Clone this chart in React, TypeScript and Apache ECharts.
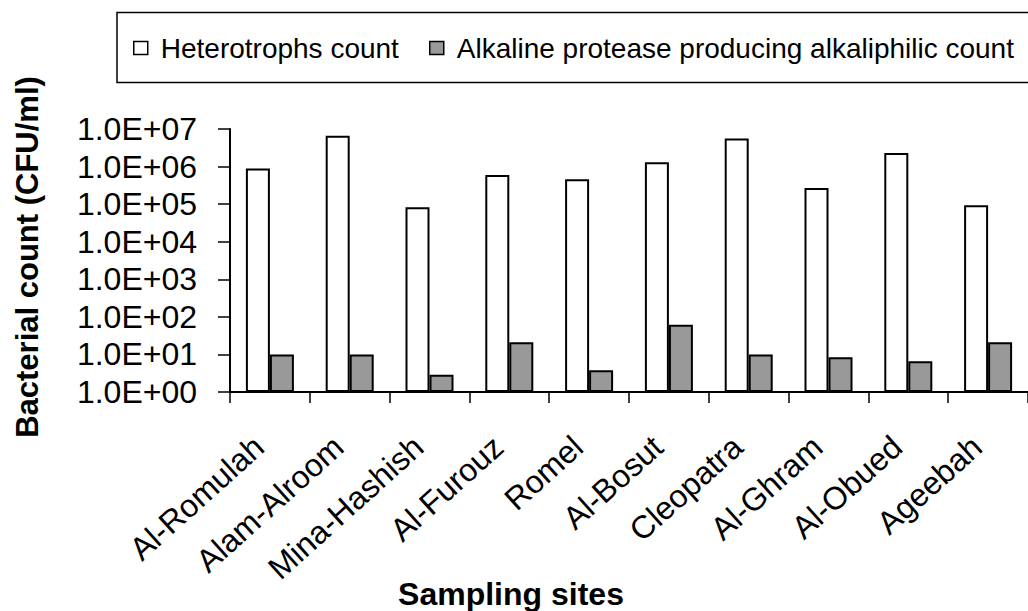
import React, { useEffect, useRef } from "react";
import * as echarts from "echarts";

const categories = [
  "Al-Romulah",
  "Alam-Alroom",
  "Mina-Hashish",
  "Al-Furouz",
  "Romel",
  "Al-Bosut",
  "Cleopatra",
  "Al-Ghram",
  "Al-Obued",
  "Ageebah",
];
const heterotrophs = [8.9e5, 6.6e6, 8.3e4, 6.0e5, 4.6e5, 1.3e6, 5.6e6, 2.7e5, 2.3e6, 9.4e4];
const alkaliphilic = [10, 10, 2.9, 21, 3.8, 62, 10, 8.4, 6.6, 21];
const yTickLabels = [
  "1.0E+00",
  "1.0E+01",
  "1.0E+02",
  "1.0E+03",
  "1.0E+04",
  "1.0E+05",
  "1.0E+06",
  "1.0E+07",
];
const seriesNames = ["Heterotrophs count", "Alkaline protease producing alkaliphilic count"];
const yTitle = "Bacterial count (CFU/ml)";
const xTitle = "Sampling sites";

const FONT = "'Liberation Sans', Arial, sans-serif";

export default function App() {
  const ref = useRef<HTMLDivElement>(null);

  useEffect(() => {
    if (!ref.current) return;
    const chart = echarts.init(ref.current, null, { renderer: "svg" });
    const legendBase = {
      top: 34,
      padding: 0,
      itemWidth: 14,
      itemHeight: 13,
      icon: "rect",
      itemStyle: { borderColor: "#000", borderWidth: 1.5 },
      textStyle: { fontFamily: FONT, fontSize: 28, color: "#000", lineHeight: 28, padding: [0, 0, 0, 8] },
      selectedMode: false,
    };
    const option: any = {
      animation: false,
      backgroundColor: "#ffffff",
      textStyle: { fontFamily: FONT, color: "#000" },
      grid: { left: 230, top: 129, width: 806, height: 263, containLabel: false },
      legend: [
        { ...legendBase, data: [seriesNames[0]], left: 133 },
        { ...legendBase, data: [seriesNames[1]], left: 429 },
      ],
      graphic: [
        {
          type: "rect",
          shape: { x: 117, y: 12.5, width: 1000, height: 70 },
          style: { fill: "none", stroke: "#000", lineWidth: 1.5 },
          silent: true,
        },
        {
          type: "text",
          x: 27,
          y: 257,
          rotation: Math.PI / 2,
          style: {
            text: yTitle,
            fontFamily: FONT,
            fontSize: 31,
            fontWeight: "bold",
            fill: "#000",
            textAlign: "center",
            textVerticalAlign: "middle",
          },
        },
        {
          type: "text",
          x: 511,
          y: 594,
          style: {
            text: xTitle,
            fontFamily: FONT,
            fontSize: 32,
            fontWeight: "bold",
            fill: "#000",
            textAlign: "center",
            textVerticalAlign: "middle",
          },
        },
      ],
      xAxis: {
        type: "category",
        data: categories,
        axisLine: { lineStyle: { color: "#000", width: 2 } },
        axisTick: { show: true, length: 11, interval: 0, lineStyle: { color: "#000", width: 1.5 } },
        axisLabel: {
          interval: 0,
          rotate: 42,
          margin: 40,
          padding: [0, 15, 30, 0],
          fontFamily: FONT,
          fontSize: 32,
          color: "#000",
        },
        splitLine: { show: false },
      },
      yAxis: {
        type: "log",
        logBase: 10,
        min: 1,
        max: 1e7,
        interval: 1,
        axisLine: { show: true, lineStyle: { color: "#000", width: 2 } },
        axisTick: { show: true, length: 12, lineStyle: { color: "#000", width: 1.5 } },
        axisLabel: {
          margin: 33,
          fontFamily: FONT,
          fontSize: 32,
          color: "#000",
          formatter: (v: number) => {
            const e = Math.round(Math.log10(v));
            return yTickLabels[e] ?? "";
          },
        },
        splitLine: { show: false },
      },
      series: [
        {
          name: seriesNames[0],
          type: "bar",
          data: heterotrophs,
          barWidth: 24,
          barGap: "0%",
          itemStyle: { color: "#ffffff", borderColor: "#000", borderWidth: 2 },
        },
        {
          name: seriesNames[1],
          type: "bar",
          data: alkaliphilic,
          barWidth: 24,
          barGap: "0%",
          itemStyle: { color: "#999999", borderColor: "#000", borderWidth: 2 },
        },
      ],
    };
    chart.setOption(option);
    return () => chart.dispose();
  }, []);

  return (
    <div
      ref={ref}
      style={{ position: "absolute", left: 0, top: 0, width: 1028, height: 611 }}
    />
  );
}
